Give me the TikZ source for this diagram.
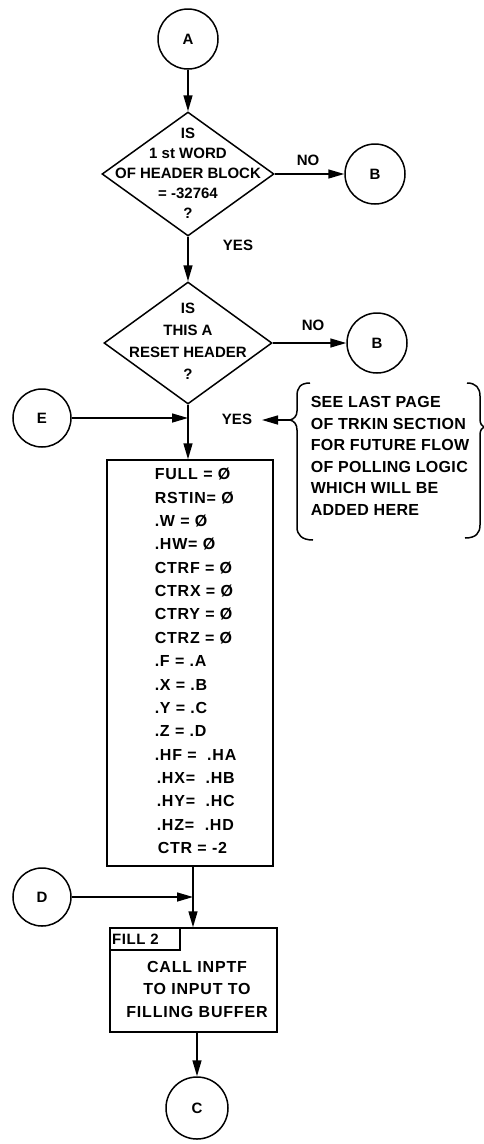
\documentclass[tikz,border=0pt]{standalone}
\usepackage{fontspec}
\setmainfont{Liberation Sans}
\usetikzlibrary{arrows.meta,shapes.geometric}
\begin{document}
\begin{tikzpicture}[x=1pt,y=-1pt, line width=1.5pt,
  txt/.style={font=\fontsize{15}{20}\selectfont\bfseries},
  conn/.style={circle,draw,minimum size=60pt,inner sep=0pt,txt},
  dia/.style={diamond,draw,minimum width=172pt,minimum height=124pt,inner sep=0pt},
  procbox/.style={draw,inner sep=0pt},
  arr/.style={-{Triangle[length=16pt,width=9pt]}},
  lbl/.style={inner sep=0pt,txt},
]
\useasboundingbox (0,0) rectangle (484,1144);

% top connector and first decision
\node[conn] (A) at (188,39) {A};
\node[dia] (d1) at (188,174) {};
\node[lbl,align=center] (t1) at (188,173) {IS\\1 st WORD\\OF HEADER BLOCK\\= -32764\\?};
\node[conn] (B1) at (375,174) {B};
\node[lbl] (no1) at (308,160) {NO};
\node[lbl] (yes1) at (238,245) {YES};

% second decision
\node[dia,minimum width=168pt,minimum height=122pt] (d2) at (188,343) {};
\node[lbl,align=center,font=\fontsize{15}{22}\selectfont\bfseries] (t2) at (188,341) {IS\\THIS A\\RESET HEADER\\?};
\node[conn] (B2) at (377,343) {B};
\node[lbl] (no2) at (313,325) {NO};

% entry E
\node[conn,minimum size=58pt] (E) at (42,418) {E};
\coordinate (j1) at (188,418);
\node[lbl] (yes2) at (237,419) {YES};

% note with braces
\coordinate (bt) at (290,420);
\coordinate (yt) at (262,420);
\node[lbl,align=left,anchor=west,font=\fontsize{16}{21.6}\selectfont\bfseries\addfontfeatures{LetterSpace=2}] (note) at (310,456)
  {SEE LAST PAGE\\OF TRKIN SECTION\\FOR FUTURE FLOW\\OF POLLING LOGIC\\WHICH WILL BE\\ADDED HERE};
\draw (310,383) .. controls (300,383) and (297,388) .. (297,396) -- (297,411)
  .. controls (297,416) and (294,419) .. (bt)
  .. controls (294,421) and (297,424) .. (297,430) -- (297,527)
  .. controls (297,535) and (302,540) .. (313,540);
\draw (467,383) .. controls (476,383) and (480,388) .. (480,396) -- (480,419)
  .. controls (480,424) and (482,426) .. (484,427)
  .. controls (482,428) and (480,430) .. (480,435) -- (480,525)
  .. controls (480,533) and (476,538) .. (465,538);
\draw[arr] (bt) -- (yt);

% main initialisation box
\node[procbox,minimum width=166pt,minimum height=406pt] (mb) at (190,663) {};
\node[lbl,align=left,anchor=west,font=\fontsize{16}{23.35}\selectfont\bfseries\addfontfeatures{LetterSpace=5}] (mt) at (154,661)
  {FULL = Ø\\RSTIN= Ø\\.W = Ø\\.HW= Ø\\CTRF = Ø\\CTRX = Ø\\CTRY = Ø\\CTRZ = Ø\\.F = .A\\.X = .B\\.Y = .C\\.Z = .D\\.HF = \ .HA\\\hspace{2pt}.HX= \ .HB\\\hspace{2pt}.HY= \ .HC\\\hspace{2pt}.HZ= \ .HD\\\hspace{3pt}CTR = -2};

% entry D
\node[conn,minimum size=58pt] (D) at (42,897) {D};
\coordinate (j2) at (193,897);

% FILL2 box
\node[procbox,minimum width=167pt,minimum height=104pt] (fb) at (193.5,980) {};
\node[procbox,anchor=north west,minimum width=70pt,minimum height=22pt,align=left,text width=66pt,font=\fontsize{15}{20}\selectfont\bfseries\addfontfeatures{LetterSpace=4}] (fl) at (fb.north west) {FILL 2};
\node[lbl,align=center,font=\fontsize{16}{22.5}\selectfont\bfseries\addfontfeatures{LetterSpace=5}] (ft) at (197,989) {CALL INPTF\\TO INPUT TO\\FILLING BUFFER};

% exit C
\node[conn,minimum size=62pt] (C) at (197,1108) {C};

% connectors
\draw[arr] (A) -- (d1.north);
\draw[arr] (d1.east) -- (B1.west);
\draw[arr] (d1.south) -- (d2.north);
\draw[arr] (d2.east) -- (B2.west);
\draw (d2.south) -- (j1);
\draw[arr] (E) -- (j1);
\draw[arr] (j1) -- (mb.north -| j1);
\draw (mb.south -| j2) -- (j2);
\draw[arr] (D) -- (j2);
\draw[arr] (j2) -- (fb.north -| j2);
\draw[arr] (fb.south -| C) -- (C);
\end{tikzpicture}
\end{document}
